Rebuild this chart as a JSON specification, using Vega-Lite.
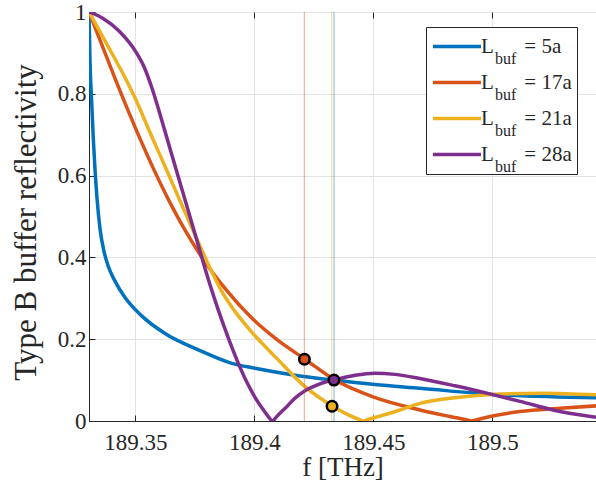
{
  "$schema": "https://vega.github.io/schema/vega-lite/v6.json",
  "width": 507,
  "height": 409,
  "autosize": {"type": "none"},
  "padding": {"left": 89, "top": 12, "right": 0, "bottom": 70},
  "background": "white",
  "config": {
    "font": "Liberation Serif",
    "view": {"stroke": "#262626", "strokeWidth": 1},
    "axis": {
      "domainColor": "#262626",
      "tickColor": "#262626",
      "gridColor": "#e3e3e3",
      "labelFont": "Liberation Serif",
      "labelFontSize": 23,
      "labelColor": "#262626",
      "titleFont": "Liberation Serif",
      "titleFontSize": 27,
      "titleFontWeight": "normal",
      "titleColor": "#262626",
      "tickSize": -6
    },
    "legend": {
      "labelFont": "Liberation Serif",
      "labelFontSize": 21,
      "labelColor": "#262626",
      "symbolType": "stroke",
      "symbolStrokeWidth": 3.5,
      "symbolSize": 2304,
      "clipHeight": 29,
      "rowPadding": 7,
      "padding": 5,
      "titlePadding": 0
    }
  },
  "resolve": {"axis": {"x": "independent"}},
  "datasets": {
    "curves": [
      {"series": "5a", "f": 189.33050, "r": 1.0},
      {"series": "5a", "f": 189.33092, "r": 0.88},
      {"series": "5a", "f": 189.33163, "r": 0.78},
      {"series": "5a", "f": 189.33231, "r": 0.69},
      {"series": "5a", "f": 189.33302, "r": 0.615},
      {"series": "5a", "f": 189.33386, "r": 0.545},
      {"series": "5a", "f": 189.33512, "r": 0.47},
      {"series": "5a", "f": 189.33680, "r": 0.415},
      {"series": "5a", "f": 189.33848, "r": 0.38},
      {"series": "5a", "f": 189.34142, "r": 0.342},
      {"series": "5a", "f": 189.34563, "r": 0.302},
      {"series": "5a", "f": 189.35264, "r": 0.257},
      {"series": "5a", "f": 189.36243, "r": 0.214},
      {"series": "5a", "f": 189.37642, "r": 0.174},
      {"series": "5a", "f": 189.39046, "r": 0.141},
      {"series": "5a", "f": 189.40025, "r": 0.129},
      {"series": "5a", "f": 189.41706, "r": 0.112},
      {"series": "5a", "f": 189.43315, "r": 0.100},
      {"series": "5a", "f": 189.45067, "r": 0.089},
      {"series": "5a", "f": 189.46958, "r": 0.080},
      {"series": "5a", "f": 189.49970, "r": 0.065},
      {"series": "5a", "f": 189.54353, "r": 0.057},

      {"series": "17a", "f": 189.33050, "r": 1.0},
      {"series": "17a", "f": 189.33554, "r": 0.925},
      {"series": "17a", "f": 189.34332, "r": 0.810},
      {"series": "17a", "f": 189.35025, "r": 0.713},
      {"series": "17a", "f": 189.35781, "r": 0.614},
      {"series": "17a", "f": 189.36453, "r": 0.534},
      {"series": "17a", "f": 189.37012, "r": 0.474},
      {"series": "17a", "f": 189.37714, "r": 0.407},
      {"series": "17a", "f": 189.38806, "r": 0.321},
      {"series": "17a", "f": 189.39815, "r": 0.256},
      {"series": "17a", "f": 189.40991, "r": 0.197},
      {"series": "17a", "f": 189.42126, "r": 0.151},
      {"series": "17a", "f": 189.43386, "r": 0.100},
      {"series": "17a", "f": 189.44983, "r": 0.059},
      {"series": "17a", "f": 189.46958, "r": 0.027},
      {"series": "17a", "f": 189.48218, "r": 0.011},
      {"series": "17a", "f": 189.48974, "r": 0.002},
      {"series": "17a", "f": 189.49130, "r": 0.0},
      {"series": "17a", "f": 189.49269, "r": 0.002},
      {"series": "17a", "f": 189.49899, "r": 0.011},
      {"series": "17a", "f": 189.51159, "r": 0.023},
      {"series": "17a", "f": 189.52840, "r": 0.031},
      {"series": "17a", "f": 189.54353, "r": 0.037},

      {"series": "21a", "f": 189.33050, "r": 1.0},
      {"series": "21a", "f": 189.33764, "r": 0.925},
      {"series": "21a", "f": 189.34605, "r": 0.835},
      {"series": "21a", "f": 189.34941, "r": 0.795},
      {"series": "21a", "f": 189.35655, "r": 0.700},
      {"series": "21a", "f": 189.36399, "r": 0.602},
      {"series": "21a", "f": 189.37012, "r": 0.520},
      {"series": "21a", "f": 189.37642, "r": 0.437},
      {"series": "21a", "f": 189.38134, "r": 0.374},
      {"series": "21a", "f": 189.38626, "r": 0.317},
      {"series": "21a", "f": 189.39184, "r": 0.268},
      {"series": "21a", "f": 189.39815, "r": 0.222},
      {"series": "21a", "f": 189.40991, "r": 0.150},
      {"series": "21a", "f": 189.42126, "r": 0.084},
      {"series": "21a", "f": 189.43290, "r": 0.036},
      {"series": "21a", "f": 189.44016, "r": 0.013},
      {"series": "21a", "f": 189.44437, "r": 0.003},
      {"series": "21a", "f": 189.44575, "r": 0.0},
      {"series": "21a", "f": 189.44731, "r": 0.003},
      {"series": "21a", "f": 189.45277, "r": 0.012},
      {"series": "21a", "f": 189.46117, "r": 0.027},
      {"series": "21a", "f": 189.46958, "r": 0.043},
      {"series": "21a", "f": 189.48428, "r": 0.057},
      {"series": "21a", "f": 189.49970, "r": 0.065},
      {"series": "21a", "f": 189.52126, "r": 0.068},
      {"series": "21a", "f": 189.54353, "r": 0.064},

      {"series": "28a", "f": 189.33050, "r": 1.0},
      {"series": "28a", "f": 189.33626, "r": 0.985},
      {"series": "28a", "f": 189.34323, "r": 0.953},
      {"series": "28a", "f": 189.35025, "r": 0.902},
      {"series": "28a", "f": 189.35361, "r": 0.866},
      {"series": "28a", "f": 189.35718, "r": 0.81},
      {"series": "28a", "f": 189.36033, "r": 0.75},
      {"series": "28a", "f": 189.36369, "r": 0.683},
      {"series": "28a", "f": 189.36735, "r": 0.61},
      {"series": "28a", "f": 189.37155, "r": 0.527},
      {"series": "28a", "f": 189.37575, "r": 0.443},
      {"series": "28a", "f": 189.37924, "r": 0.373},
      {"series": "28a", "f": 189.38134, "r": 0.333},
      {"series": "28a", "f": 189.38483, "r": 0.271},
      {"series": "28a", "f": 189.38890, "r": 0.205},
      {"series": "28a", "f": 189.39323, "r": 0.141},
      {"series": "28a", "f": 189.39689, "r": 0.094},
      {"series": "28a", "f": 189.40025, "r": 0.058},
      {"series": "28a", "f": 189.40403, "r": 0.025},
      {"series": "28a", "f": 189.40592, "r": 0.010},
      {"series": "28a", "f": 189.40769, "r": 0.0},
      {"series": "28a", "f": 189.40907, "r": 0.009},
      {"series": "28a", "f": 189.41357, "r": 0.035},
      {"series": "28a", "f": 189.41706, "r": 0.056},
      {"series": "28a", "f": 189.42126, "r": 0.074},
      {"series": "28a", "f": 189.42756, "r": 0.091},
      {"series": "28a", "f": 189.43386, "r": 0.101},
      {"series": "28a", "f": 189.44227, "r": 0.112},
      {"series": "28a", "f": 189.45067, "r": 0.117},
      {"series": "28a", "f": 189.45907, "r": 0.114},
      {"series": "28a", "f": 189.46958, "r": 0.104},
      {"series": "28a", "f": 189.48428, "r": 0.086},
      {"series": "28a", "f": 189.49970, "r": 0.065},
      {"series": "28a", "f": 189.51159, "r": 0.048},
      {"series": "28a", "f": 189.52546, "r": 0.027},
      {"series": "28a", "f": 189.54353, "r": 0.009}
    ],
    "vlines": [
      {"series": "17a", "f": 189.42096},
      {"series": "21a", "f": 189.43248},
      {"series": "5a", "f": 189.43344}
    ],
    "markers": [
      {"series": "17a", "f": 189.42100, "r": 0.151},
      {"series": "21a", "f": 189.43260, "r": 0.036},
      {"series": "28a", "f": 189.43340, "r": 0.100}
    ]
  },
  "layer": [
    {
      "data": {"name": "curves"},
      "mark": {"type": "line", "strokeWidth": 3.5, "interpolate": "monotone", "clip": true},
      "encoding": {
        "x": {
          "field": "f", "type": "quantitative",
          "scale": {"domain": [189.3305, 189.5435], "nice": false, "zero": false},
          "axis": {
            "orient": "bottom",
            "values": [189.35, 189.4, 189.45, 189.5],
            "format": "~g",
            "title": "f [THz]",
            "labelPadding": 16,
            "titlePadding": 0
          }
        },
        "y": {
          "field": "r", "type": "quantitative",
          "scale": {"domain": [0, 1], "nice": false},
          "axis": {
            "values": [0, 0.2, 0.4, 0.6, 0.8, 1],
            "format": "~g",
            "title": "Type B buffer reflectivity",
            "titleFontSize": 31,
            "titleY": 210,
            "labelPadding": 9,
            "titlePadding": 15
          }
        },
        "color": {
          "field": "series", "type": "nominal",
          "scale": {"domain": ["5a", "17a", "21a", "28a"], "range": ["#0072BD", "#D95319", "#EDB120", "#7E2F8E"]},
          "legend": {
            "title": null,
            "orient": "none",
            "legendX": 337,
            "legendY": 15,
            "strokeColor": "#262626",
            "fillColor": "white",
            "symbolOpacity": 1,
            "labelOffset": -2,
            "labelExpr": "'L\u00a0\u00a0\u00a0\u00a0\u00a0\u2009= ' + datum.label",
            "encode": {"symbols": {"update": {"opacity": {"value": 1}, "strokeOpacity": {"value": 1}}}}
          }
        },
        "opacity": {
          "field": "series", "type": "nominal",
          "scale": {"domain": ["28a", "21a", "17a", "5a"], "range": [1, 1, 1, 1]},
          "legend": {
            "title": null,
            "orient": "none",
            "legendX": 337,
            "legendY": 27,
            "strokeColor": "transparent",
            "fillColor": "transparent",
            "symbolStrokeColor": "transparent",
            "symbolFillColor": "transparent",
            "labelFontSize": 16,
            "labelOffset": 12,
            "labelExpr": "'buf'"
          }
        }
      }
    },
    {
      "data": {"name": "vlines"},
      "mark": {"type": "rule", "strokeWidth": 1, "opacity": 0.5},
      "encoding": {
        "x": {
          "field": "f", "type": "quantitative",
          "axis": {"orient": "top", "values": [189.35, 189.4, 189.45, 189.5], "labels": false, "grid": false, "domain": false, "title": null}
        },
        "color": {"field": "series", "type": "nominal"}
      }
    },
    {
      "data": {"name": "markers"},
      "mark": {"type": "point", "filled": true, "size": 110, "stroke": "black", "strokeWidth": 2.5, "opacity": 1},
      "encoding": {
        "x": {"field": "f", "type": "quantitative", "axis": null},
        "y": {"field": "r", "type": "quantitative"},
        "color": {"field": "series", "type": "nominal"}
      }
    }
  ]
}
